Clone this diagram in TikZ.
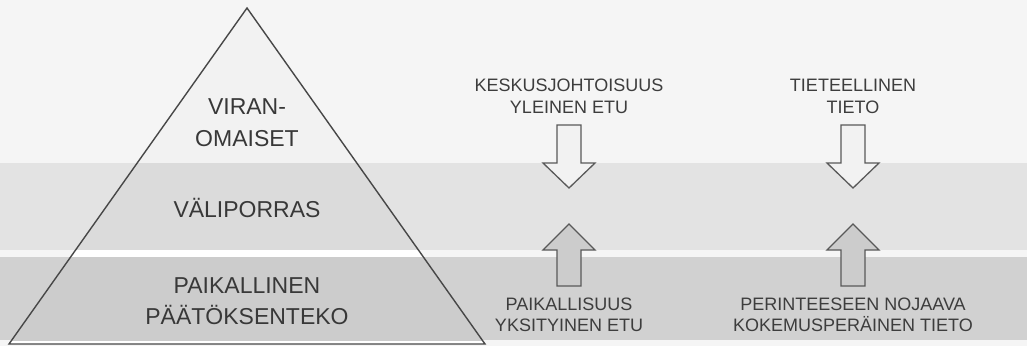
\documentclass[tikz,border=0pt]{standalone}
\usepackage{fontspec}
\setmainfont{Liberation Sans}
\begin{document}
\begin{tikzpicture}[x=1pt,y=-1pt,
  arrline/.style={draw=black!65, line width=1.3pt, line join=miter},
  lbl/.style={text=black!76, align=center, font=\fontsize{18}{21.5}\selectfont, inner sep=0pt},
  plbl/.style={text=black!78, align=center, font=\fontsize{23}{31.5}\selectfont, inner sep=0pt},
  downarr/.pic={\path[arrline, fill=black!5] (-12,0) -- (12,0) -- (12,38) -- (26,38) -- (0,63) -- (-26,38) -- (-12,38) -- cycle;},
  uparr/.pic={\path[arrline, fill=black!20] (-12,0) -- (12,0) -- (12,-36) -- (26,-36) -- (0,-62) -- (-26,-36) -- (-12,-36) -- cycle;}
]
\useasboundingbox (0,0) rectangle (1027,346);
% background and bands
\fill[black!4] (0,0) rectangle (1027,346);
\fill[black!11] (0,163) rectangle (1027,250);
\fill[black!18] (0,257) rectangle (1027,340);
% pyramid
\coordinate (apex) at (247,8);
\coordinate (bl) at (9,344);
\coordinate (br) at (485,344);
\begin{scope}
  \clip (apex) -- (bl) -- (br) -- cycle;
  \fill[black!5] (0,0) rectangle (1027,163);
  \fill[black!14] (0,163) rectangle (1027,250);
  \fill[white] (0,250) rectangle (1027,257);
  \fill[black!20] (0,257) rectangle (1027,341);
  \fill[white] (0,341) rectangle (1027,346);
\end{scope}
\draw[black!72, line width=1.4pt, line join=miter] (apex) -- (bl) -- (br) -- cycle;
% pyramid labels
\node[plbl] (viran) at (247,122.5) {VIRAN-\\OMAISET};
\node[plbl] (vali) at (247,208) {VÄLIPORRAS};
\node[plbl] (paik) at (247,301) {PAIKALLINEN\\PÄÄTÖKSENTEKO};
% side labels
\node[lbl] (kesk) at (569,96.5) {KESKUSJOHTOISUUS\\YLEINEN ETU};
\node[lbl] (tiet) at (853,96.5) {TIETEELLINEN\\TIETO};
\node[lbl] (paikall) at (569,315) {PAIKALLISUUS\\YKSITYINEN ETU};
\node[lbl] (perin) at (853,315) {PERINTEESEEN NOJAAVA\\KOKEMUSPERÄINEN TIETO};
% block arrows
\pic at (569,125) {downarr};
\pic at (853,125) {downarr};
\pic at (569,286) {uparr};
\pic at (853,286) {uparr};
\end{tikzpicture}
\end{document}
